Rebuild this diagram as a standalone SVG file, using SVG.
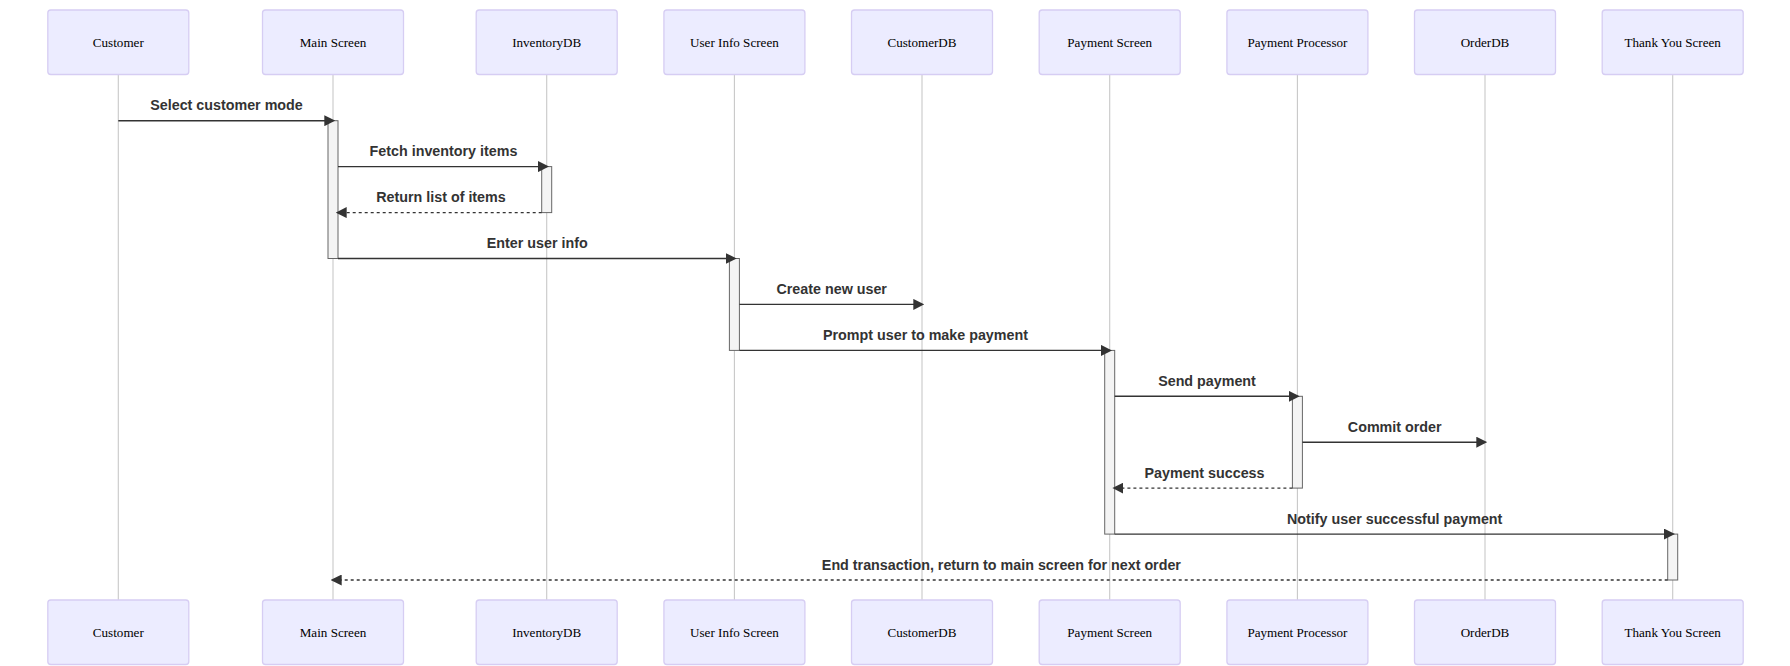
<svg xmlns="http://www.w3.org/2000/svg" width="1790" height="666" viewBox="0 0 1790 666">
<style>
.actor{fill:#ECECFF;stroke:#d6cdf3;stroke-width:1.3}
.atext{font-family:"Liberation Serif","Times New Roman",serif;font-size:13.1px;fill:#000;text-anchor:middle;dominant-baseline:central}
.life{stroke:#c8c8c8;stroke-width:1.1}
.act{fill:#f4f4f4;stroke:#666;stroke-width:1}
.msg{stroke:#333;stroke-width:1.4;fill:none}
.dash{stroke-dasharray:3,3}
.mtext{font-family:"Liberation Sans",Arial,sans-serif;font-size:14.3px;font-weight:bold;fill:#333;text-anchor:middle}
</style>
<defs>
<marker id="arrow" viewBox="0 0 10 10" refX="7.9" refY="5" markerWidth="11" markerHeight="11" markerUnits="userSpaceOnUse" orient="auto">
<path d="M 0 0 L 10 5 L 0 10 z" fill="#333"/>
</marker>
</defs>
<g id="lifelines">
<line class="life" x1="118.3" y1="74.5" x2="118.3" y2="600"/>
<line class="life" x1="333" y1="74.5" x2="333" y2="600"/>
<line class="life" x1="546.7" y1="74.5" x2="546.7" y2="600"/>
<line class="life" x1="734.4" y1="74.5" x2="734.4" y2="600"/>
<line class="life" x1="922" y1="74.5" x2="922" y2="600"/>
<line class="life" x1="1109.7" y1="74.5" x2="1109.7" y2="600"/>
<line class="life" x1="1297.4" y1="74.5" x2="1297.4" y2="600"/>
<line class="life" x1="1485" y1="74.5" x2="1485" y2="600"/>
<line class="life" x1="1672.7" y1="74.5" x2="1672.7" y2="600"/>
</g>
<g id="customer">
<rect class="actor" x="47.8" y="10" width="141" height="64.5" rx="3"/>
<text class="atext" x="118.3" y="42.3">Customer</text>
<rect class="actor" x="47.8" y="600" width="141" height="64.5" rx="3"/>
<text class="atext" x="118.3" y="632.3">Customer</text>
</g>
<g id="main-screen">
<rect class="actor" x="262.5" y="10" width="141" height="64.5" rx="3"/>
<text class="atext" x="333" y="42.3">Main Screen</text>
<rect class="actor" x="262.5" y="600" width="141" height="64.5" rx="3"/>
<text class="atext" x="333" y="632.3">Main Screen</text>
</g>
<g id="inventorydb">
<rect class="actor" x="476.2" y="10" width="141" height="64.5" rx="3"/>
<text class="atext" x="546.7" y="42.3">InventoryDB</text>
<rect class="actor" x="476.2" y="600" width="141" height="64.5" rx="3"/>
<text class="atext" x="546.7" y="632.3">InventoryDB</text>
</g>
<g id="user-info-screen">
<rect class="actor" x="663.9" y="10" width="141" height="64.5" rx="3"/>
<text class="atext" x="734.4" y="42.3">User Info Screen</text>
<rect class="actor" x="663.9" y="600" width="141" height="64.5" rx="3"/>
<text class="atext" x="734.4" y="632.3">User Info Screen</text>
</g>
<g id="customerdb">
<rect class="actor" x="851.5" y="10" width="141" height="64.5" rx="3"/>
<text class="atext" x="922" y="42.3">CustomerDB</text>
<rect class="actor" x="851.5" y="600" width="141" height="64.5" rx="3"/>
<text class="atext" x="922" y="632.3">CustomerDB</text>
</g>
<g id="payment-screen">
<rect class="actor" x="1039.2" y="10" width="141" height="64.5" rx="3"/>
<text class="atext" x="1109.7" y="42.3">Payment Screen</text>
<rect class="actor" x="1039.2" y="600" width="141" height="64.5" rx="3"/>
<text class="atext" x="1109.7" y="632.3">Payment Screen</text>
</g>
<g id="payment-processor">
<rect class="actor" x="1226.9" y="10" width="141" height="64.5" rx="3"/>
<text class="atext" x="1297.4" y="42.3">Payment Processor</text>
<rect class="actor" x="1226.9" y="600" width="141" height="64.5" rx="3"/>
<text class="atext" x="1297.4" y="632.3">Payment Processor</text>
</g>
<g id="orderdb">
<rect class="actor" x="1414.5" y="10" width="141" height="64.5" rx="3"/>
<text class="atext" x="1485" y="42.3">OrderDB</text>
<rect class="actor" x="1414.5" y="600" width="141" height="64.5" rx="3"/>
<text class="atext" x="1485" y="632.3">OrderDB</text>
</g>
<g id="thank-you-screen">
<rect class="actor" x="1602.2" y="10" width="141" height="64.5" rx="3"/>
<text class="atext" x="1672.7" y="42.3">Thank You Screen</text>
<rect class="actor" x="1602.2" y="600" width="141" height="64.5" rx="3"/>
<text class="atext" x="1672.7" y="632.3">Thank You Screen</text>
</g>
<g id="activations">
<rect class="act" x="328" y="120.7" width="10" height="137.8"/>
<rect class="act" x="541.7" y="166.6" width="10" height="46"/>
<rect class="act" x="729.4" y="258.5" width="10" height="91.9"/>
<rect class="act" x="1104.7" y="350.4" width="10" height="183.7"/>
<rect class="act" x="1292.4" y="396.3" width="10" height="91.8"/>
<rect class="act" x="1667.7" y="534.1" width="10" height="45.9"/>
</g>
<g id="connectors">
<line class="msg" x1="118.3" y1="120.7" x2="333" y2="120.7" marker-end="url(#arrow)"/>
<line class="msg" x1="338" y1="166.6" x2="546.7" y2="166.6" marker-end="url(#arrow)"/>
<line class="msg dash" x1="541.7" y1="212.6" x2="338" y2="212.6" marker-end="url(#arrow)"/>
<line class="msg" x1="338" y1="258.5" x2="734.4" y2="258.5" marker-end="url(#arrow)"/>
<line class="msg" x1="739.4" y1="304.4" x2="922" y2="304.4" marker-end="url(#arrow)"/>
<line class="msg" x1="739.4" y1="350.4" x2="1109.7" y2="350.4" marker-end="url(#arrow)"/>
<line class="msg" x1="1114.7" y1="396.3" x2="1297.4" y2="396.3" marker-end="url(#arrow)"/>
<line class="msg" x1="1302.4" y1="442.2" x2="1485" y2="442.2" marker-end="url(#arrow)"/>
<line class="msg dash" x1="1292.4" y1="488.1" x2="1114.7" y2="488.1" marker-end="url(#arrow)"/>
<line class="msg" x1="1114.7" y1="534.1" x2="1672.7" y2="534.1" marker-end="url(#arrow)"/>
<line class="msg dash" x1="1667.7" y1="580" x2="333" y2="580" marker-end="url(#arrow)"/>
</g>
<g id="labels">
<text class="mtext" x="226.5" y="110.2">Select customer mode</text>
<text class="mtext" x="443.5" y="156.1">Fetch inventory items</text>
<text class="mtext" x="441" y="202.1">Return list of items</text>
<text class="mtext" x="537.2" y="248">Enter user info</text>
<text class="mtext" x="831.7" y="293.9">Create new user</text>
<text class="mtext" x="925.5" y="339.9">Prompt user to make payment</text>
<text class="mtext" x="1207" y="385.8">Send payment</text>
<text class="mtext" x="1394.7" y="431.7">Commit order</text>
<text class="mtext" x="1204.5" y="477.6">Payment success</text>
<text class="mtext" x="1394.7" y="523.6">Notify user successful payment</text>
<text class="mtext" x="1001.4" y="569.5">End transaction, return to main screen for next order</text>
</g>
</svg>
